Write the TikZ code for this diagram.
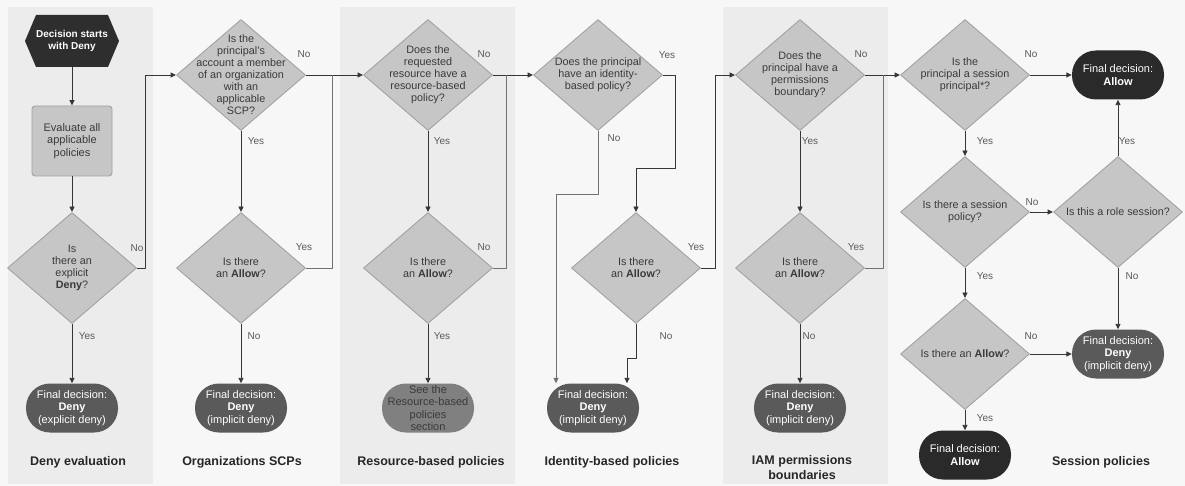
\documentclass[tikz,border=0pt]{standalone}
\usepackage{fontspec}
\setmainfont{Liberation Sans}
\usetikzlibrary{arrows.meta,shapes.geometric}

\definecolor{pagebg}{HTML}{F7F7F7}
\definecolor{panelbg}{HTML}{ECECEC}
\definecolor{decfill}{HTML}{C6C6C6}
\definecolor{decline}{HTML}{A2A2A2}
\definecolor{qtextcol}{HTML}{3A3A3A}
\definecolor{hexfill}{HTML}{2E2E2E}
\definecolor{denyfill}{HTML}{5A5A5A}
\definecolor{allowfill}{HTML}{2A2A2A}
\definecolor{seefill}{HTML}{808080}
\definecolor{linecol}{HTML}{363636}
\definecolor{joincol}{HTML}{707070}
\definecolor{lblcol}{HTML}{5A5A5A}

\begin{document}
\begin{tikzpicture}[x=1pt, y=-1pt, line join=round,
  dec/.style={diamond, draw=decline, fill=decfill, line width=0.9pt,
    minimum width=129pt, minimum height=111pt, inner sep=0pt},
  qtext/.style={inner sep=0pt, align=center, text=qtextcol,
    font=\fontsize{10.8}{12}\selectfont},
  evalbox/.style={rectangle, rounded corners=3pt, draw=decline, fill=decfill,
    line width=0.9pt, minimum width=80pt, minimum height=70pt, inner sep=0pt,
    align=center, text=qtextcol, font=\fontsize{11}{12.5}\selectfont},
  hextext/.style={minimum width=94pt, minimum height=52pt, inner sep=0pt,
    align=center, text=white, font=\bfseries\fontsize{10}{12.5}\selectfont},
  pill/.style={rectangle, rounded corners=24pt, minimum width=92pt,
    minimum height=49pt, inner sep=0pt, align=center, text=white,
    font=\fontsize{11}{12.5}\selectfont},
  denypill/.style={pill, fill=denyfill},
  allowpill/.style={pill, fill=allowfill},
  seepill/.style={pill, fill=seefill, text=qtextcol},
  conn/.style={draw=linecol, line width=0.9pt, -{Triangle[length=5.5pt,width=5pt]}},
  connlight/.style={conn, draw=joincol, line width=0.7pt},
  joinline/.style={draw=joincol, line width=0.8pt},
  lbl/.style={inner sep=0pt, text=lblcol, font=\fontsize{10}{12}\selectfont},
  heading/.style={inner sep=0pt, align=center, text=black!85,
    font=\bfseries\fontsize{12.5}{15}\selectfont}]

  %% ════ background and column panels ════
  \fill[pagebg] (0,0) rectangle (1185,486);
  \fill[panelbg] (8,7) rectangle (153,484);
  \fill[panelbg] (340,7) rectangle (515,484);
  \fill[panelbg] (723,7) rectangle (888,484);

  %% ════ column 1: deny evaluation ════
  \fill[hexfill] (25,41) -- (36,15) -- (108,15) -- (119,41) -- (108,67) -- (36,67) -- cycle;
  \node[hextext] (start) at (72,41) {Decision starts\\with Deny};
  \node[evalbox] (eval) at (72,141) {Evaluate all\\applicable\\policies};
  \node[dec, label={[qtext]center:{Is\\there an\\explicit\\\textbf{Deny}?}}] (expl) at (72,268) {};
  \node[denypill] (denyE) at (72,408) {Final decision:\\\textbf{Deny}\\(explicit deny)};

  %% ════ column 2: organizations SCPs ════
  \node[dec, label={[qtext]center:{Is the\\principal's\\account a member\\of an organization\\with an\\applicable\\SCP?}}] (scp) at (241,75) {};
  \node[dec, label={[qtext]center:{Is there\\an \textbf{Allow}?}}] (scpA) at (241,268) {};
  \node[denypill] (denyO) at (241,408) {Final decision:\\\textbf{Deny}\\(implicit deny)};

  %% ════ column 3: resource-based policies ════
  \node[dec, label={[qtext]center:{Does the\\requested\\resource have a\\resource-based\\policy?}}] (rbp) at (428,75) {};
  \node[dec, label={[qtext]center:{Is there\\an \textbf{Allow}?}}] (rbpA) at (428,268) {};
  \node[seepill] (see) at (428,408) {See the\\Resource-based\\policies\\section};

  %% ════ column 4: identity-based policies ════
  \node[dec, label={[qtext]center:{Does the principal\\have an identity-\\based policy?}}] (idp) at (598,75) {};
  \node[dec, label={[qtext]center:{Is there\\an \textbf{Allow}?}}] (idpA) at (636,268) {};
  \node[denypill] (denyI) at (593,408) {Final decision:\\\textbf{Deny}\\(implicit deny)};

  %% ════ column 5: permissions boundaries ════
  \node[dec, label={[qtext]center:{Does the\\principal have a\\permissions\\boundary?}}] (pb) at (800,75) {};
  \node[dec, label={[qtext]center:{Is there\\an \textbf{Allow}?}}] (pbA) at (800,268) {};
  \node[denypill] (denyP) at (800,408) {Final decision:\\\textbf{Deny}\\(implicit deny)};

  %% ════ column 6: session policies ════
  \node[dec, label={[qtext]center:{Is the\\principal a session\\principal*?}}] (sp) at (965,75) {};
  \node[dec, label={[qtext]center:{Is there a session\\policy?}}] (spol) at (965,212) {};
  \node[dec, label={[qtext]center:{Is this a role session?}}] (role) at (1118,212) {};
  \node[dec, label={[qtext]center:{Is there an \textbf{Allow}?}}] (sA) at (965,354) {};
  \node[allowpill] (allowT) at (1118,75) {Final decision:\\\textbf{Allow}};
  \node[denypill] (denyS) at (1118,354) {Final decision:\\\textbf{Deny}\\(implicit deny)};
  \node[allowpill] (allowB) at (965,455) {Final decision:\\\textbf{Allow}};

  %% ════ bends of the routed lines ════
  \coordinate (bus1) at (145,0);
  \coordinate (bus2) at (332,0);
  \coordinate (bus3) at (506,0);
  \coordinate (jogY) at (675,168);
  \coordinate (jogN) at (556,194);
  \coordinate (jogN2) at (627,358);
  \coordinate (bus5) at (715,0);
  \coordinate (bus6) at (883,0);

  %% ════ connectors ════
  \draw[conn] (start) -- (eval);
  \draw[conn] (eval) -- (expl);
  \draw[conn] (expl) -- (denyE);
  \draw[conn] (expl.east) -- (expl.east -| bus1) |- (scp.west);

  \draw[conn] (scp) -- (scpA);
  \draw[conn] (scpA) -- (denyO);
  \draw[conn] (scp.east) -- (rbp.west);
  \draw[joinline] (scpA.east) -| (scp.east -| bus2);

  \draw[conn] (rbp) -- (rbpA);
  \draw[conn] (rbpA) -- (see);
  \draw[conn] (rbp.east) -- (idp.west);
  \draw[joinline] (rbpA.east) -| (rbp.east -| bus3);

  \draw[conn] (idp.east) -| (jogY) -| (idpA.north);
  \draw[connlight] (idp.south) |- (jogN) -- (jogN |- denyI.north);
  \draw[conn] (idpA.south) |- (jogN2) -- (jogN2 |- denyI.north);
  \draw[conn] (idpA.east) -- (idpA.east -| bus5) |- (pb.west);

  \draw[conn] (pb) -- (pbA);
  \draw[conn] (pbA) -- (denyP);
  \draw[conn] (pb.east) -- (sp.west);
  \draw[joinline] (pbA.east) -| (pb.east -| bus6);

  \draw[conn] (sp.east) -- (allowT.west);
  \draw[conn] (sp) -- (spol);
  \draw[conn] (spol) -- (role);
  \draw[conn] (role) -- (allowT);
  \draw[conn] (role) -- (denyS);
  \draw[conn] (spol) -- (sA);
  \draw[conn] (sA) -- (denyS);
  \draw[conn] (sA) -- (allowB);

  %% ════ Yes / No labels ════
  \foreach \lx/\ly/\lt [count=\i] in {137/248/No, 87/336/Yes, 304/54/No, 256/141/Yes,
      304/247/Yes, 254/336/No, 484/54/No, 442/141/Yes, 484/247/No, 442/336/Yes,
      667/55/Yes, 614/138/No, 696/247/Yes, 666/336/No, 861/54/No, 810/141/Yes,
      856/247/Yes, 809/336/No, 1031/54/No, 985/141/Yes, 1032/202/No, 1127/141/Yes,
      1132/276/No, 985/276/Yes, 1031/336/No, 985/418/Yes}
    \node[lbl] (lbl\i) at (\lx,\ly) {\lt};

  %% ════ column headings ════
  \node[heading] (tDeny) at (78,462) {Deny evaluation};
  \node[heading] (tScp) at (242,462) {Organizations SCPs};
  \node[heading] (tRbp) at (431,462) {Resource-based policies};
  \node[heading] (tIdp) at (612,462) {Identity-based policies};
  \node[heading] (tPb) at (802,468) {IAM permissions\\boundaries};
  \node[heading] (tSess) at (1101,462) {Session policies};

  \pgfresetboundingbox
  \path[use as bounding box] (0,0) rectangle (1185,486);
\end{tikzpicture}
\end{document}
